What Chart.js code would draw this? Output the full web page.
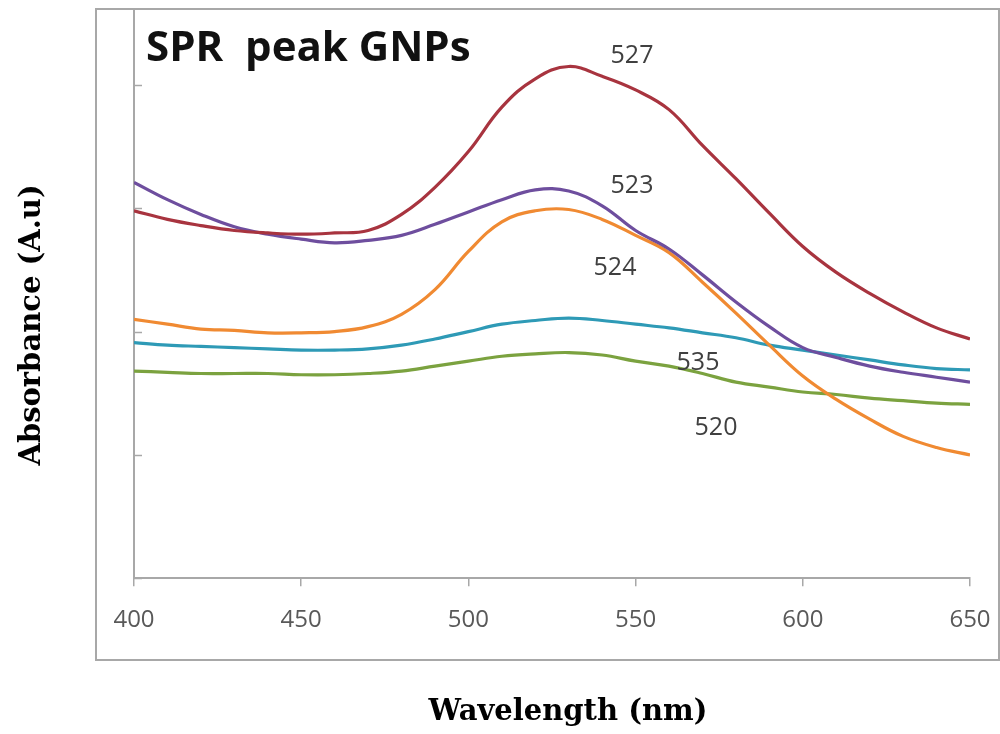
<!DOCTYPE html>
<html>
<head>
<meta charset="utf-8">
<script src="https://cdn.jsdelivr.net/npm/chart.js@4.4.0/dist/chart.umd.min.js"></script>
<style>
  html, body { margin: 0; padding: 0; background: #ffffff; }
  #wrap { width: 1000px; height: 734px; position: relative; }
</style>
</head>
<body>
<div id="wrap"><canvas id="c" width="1000" height="734"></canvas></div>
<script>
// Wavelength (nm)
const wavelengths = [400,410,420,430,440,450,460,470,480,490,500,510,520,530,540,550,560,570,580,590,600,610,620,630,640,650];
// Absorbance (arbitrary units)
const s527 = [2.98,2.91,2.86,2.82,2.80,2.79,2.80,2.82,2.95,3.17,3.46,3.82,4.05,4.15,4.07,3.96,3.80,3.51,3.24,2.96,2.69,2.48,2.31,2.16,2.03,1.94];
const s523 = [3.21,3.07,2.95,2.85,2.79,2.75,2.72,2.74,2.78,2.87,2.97,3.07,3.15,3.14,3.02,2.82,2.67,2.46,2.24,2.04,1.87,1.79,1.72,1.67,1.63,1.59];
const s524 = [2.10,2.06,2.02,2.01,1.99,1.99,2.00,2.04,2.14,2.34,2.65,2.89,2.98,2.99,2.91,2.78,2.64,2.40,2.15,1.89,1.64,1.45,1.29,1.15,1.06,1.00];
const s535 = [1.91,1.89,1.88,1.87,1.86,1.85,1.85,1.86,1.89,1.94,2.00,2.06,2.09,2.11,2.09,2.06,2.03,1.99,1.95,1.89,1.85,1.81,1.77,1.73,1.70,1.69];
const s520 = [1.68,1.67,1.66,1.66,1.66,1.65,1.65,1.66,1.68,1.72,1.76,1.80,1.82,1.83,1.81,1.76,1.72,1.66,1.59,1.55,1.51,1.49,1.46,1.44,1.42,1.41];
const xTicks = [400,450,500,550,600,650];
const yTickMarks = [0,1,2,3,4];
const peakLabels = ["527","523","524","535","520"];
const chartTitle = "SPR  peak GNPs";
const xTitle = "Wavelength (nm)";
const yTitle = "Absorbance (A.u)";

const toPts = arr => wavelengths.map((w, i) => ({x: w, y: arr[i]}));

const decor = {
  id: 'decor',
  beforeDraw(chart) {
    const ctx = chart.ctx;
    ctx.save();
    ctx.fillStyle = '#ffffff';
    ctx.fillRect(0, 0, chart.width, chart.height);
    ctx.strokeStyle = '#a8a8a8';
    ctx.lineWidth = 2;
    ctx.strokeRect(96, 9, 903, 651);
    ctx.restore();
  },
  beforeDatasetsDraw(chart) {
    const ctx = chart.ctx;
    const ys = chart.scales.y;
    const left = chart.chartArea.left;
    ctx.save();
    ctx.strokeStyle = '#a8a8a8';
    ctx.lineWidth = 1.5;
    yTickMarks.forEach(v => {
      const py = Math.round(ys.getPixelForValue(v)) + 0.5;
      ctx.beginPath();
      ctx.moveTo(left, py);
      ctx.lineTo(left + 8, py);
      ctx.stroke();
    });
    ctx.restore();
  },
  afterDraw(chart) {
    const ctx = chart.ctx;
    ctx.save();
    // chart title
    ctx.fillStyle = '#111111';
    ctx.font = 'bold 42px "Open Sans"';
    ctx.textAlign = 'left';
    ctx.textBaseline = 'alphabetic';
    ctx.fillText(chartTitle, 146, 61);
    // peak labels
    ctx.fillStyle = '#404040';
    ctx.font = '25px "Open Sans"';
    ctx.textAlign = 'center';
    ctx.textBaseline = 'middle';
    const pos = [[632,56],[632,186],[615,268],[698,363],[716,428]];
    peakLabels.forEach((t, i) => ctx.fillText(t, pos[i][0], pos[i][1]));
    // axis titles
    ctx.fillStyle = '#000000';
    ctx.font = 'bold 29px "DejaVu Serif"';
    ctx.textAlign = 'center';
    ctx.textBaseline = 'middle';
    ctx.fillText(xTitle, 568, 712);
    ctx.translate(32, 325);
    ctx.rotate(-Math.PI / 2);
    ctx.fillText(yTitle, 0, 0);
    ctx.restore();
  }
};

const mk = (label, arr, color) => ({
  label, data: toPts(arr), borderColor: color, backgroundColor: color,
  borderWidth: 3.2, pointRadius: 0, tension: 0.4, fill: false
});

new Chart(document.getElementById('c'), {
  type: 'line',
  data: {
    datasets: [
      mk('527', s527, '#a8343f'),
      mk('523', s523, '#6e4e9e'),
      mk('524', s524, '#f08a32'),
      mk('535', s535, '#2e9ab6'),
      mk('520', s520, '#7ba23f')
    ]
  },
  options: {
    responsive: false,
    animation: false,
    devicePixelRatio: 1,
    layout: { padding: { left: 134, right: 30, top: 11, bottom: 79 } },
    plugins: { legend: { display: false }, tooltip: { enabled: false }, title: { display: false } },
    scales: {
      x: {
        type: 'linear', position: 'bottom', min: 400, max: 650,
        afterBuildTicks: s => { s.ticks = xTicks.map(v => ({value: v})); },
        afterFit: s => { s.paddingRight = 0; s.paddingLeft = 0; },
        grid: { drawOnChartArea: false, drawTicks: true, tickLength: 8, color: '#a8a8a8', lineWidth: 1.5 },
        border: { display: true, color: '#a8a8a8', width: 2 },
        ticks: { font: { family: 'Open Sans', size: 24 }, color: '#595959', padding: 20, maxRotation: 0 }
      },
      y: {
        type: 'linear', min: 0, max: 4.6,
        grid: { display: false, drawTicks: false },
        border: { display: true, color: '#a8a8a8', width: 2 },
        ticks: { display: false }
      }
    }
  },
  plugins: [decor]
});
</script>
</body>
</html>
